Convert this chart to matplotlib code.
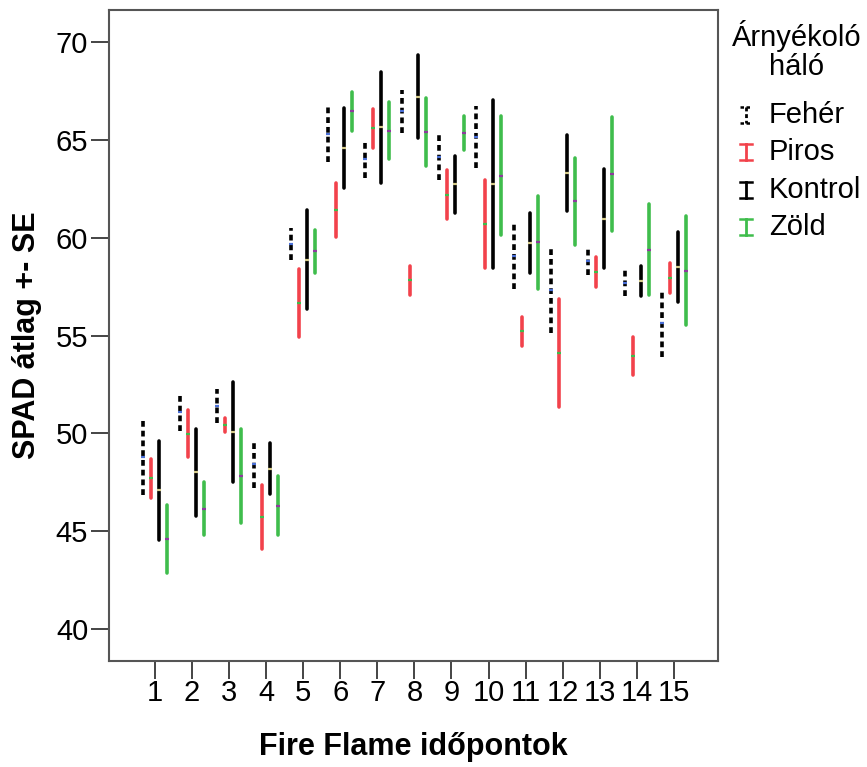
import matplotlib
matplotlib.use("Agg")
import matplotlib.pyplot as plt
from matplotlib.lines import Line2D

plt.rcParams["font.family"] = ["Liberation Sans", "DejaVu Sans"]

timepoints = list(range(1, 16))
groups = ["Fehér", "Piros", "Kontrol", "Zöld"]

# SPAD means and standard errors per shade net
feher_mean = [48.78, 51.10, 51.41, 48.41, 59.68, 65.31, 64.05, 66.46, 64.13, 65.15, 59.08, 57.32, 58.79, 57.71, 55.62]
feher_se = [1.92, 0.96, 0.86, 1.21, 0.81, 1.44, 1.00, 1.11, 1.17, 1.59, 1.71, 2.20, 0.69, 0.68, 1.72]
piros_mean = [47.71, 49.99, 50.42, 45.73, 56.67, 61.41, 65.59, 57.82, 62.21, 60.72, 55.21, 54.12, 58.24, 53.97, 57.95]
piros_se = [0.99, 1.21, 0.36, 1.65, 1.72, 1.38, 0.98, 0.75, 1.26, 2.24, 0.74, 2.75, 0.77, 0.98, 0.75]
kontrol_mean = [47.09, 48.01, 50.08, 48.20, 58.89, 64.60, 65.66, 67.22, 62.73, 62.77, 59.74, 63.33, 60.98, 57.78, 58.53]
kontrol_se = [2.54, 2.23, 2.57, 1.31, 2.54, 2.03, 2.84, 2.13, 1.47, 4.29, 1.55, 1.94, 2.53, 0.78, 1.79]
zold_mean = [44.59, 46.15, 47.82, 46.31, 59.30, 66.48, 65.48, 65.43, 65.36, 63.18, 59.76, 61.86, 63.27, 59.40, 58.32]
zold_se = [1.74, 1.35, 2.41, 1.53, 1.11, 1.00, 1.45, 1.74, 0.87, 3.03, 2.39, 2.22, 2.90, 2.32, 2.77]

means = [feher_mean, piros_mean, kontrol_mean, zold_mean]
ses = [feher_se, piros_se, kontrol_se, zold_se]
bar_colors = ["black", "#f2424b", "black", "#3fbd4c"]
mean_colors = ["#4a6fd6", "#3fbd4c", "#d6cc8c", "#8e3a9e"]
dashes = [(0, (1.6, 1.1)), "solid", "solid", "solid"]
offsets = [-0.325, -0.108, 0.108, 0.325]

fig = plt.figure(figsize=(8.67, 7.67), dpi=100)
ax = fig.add_axes([0.1257, 0.1382, 0.7024, 0.8488])

for m, s, c, mc, ls, off in zip(means, ses, bar_colors, mean_colors, dashes, offsets):
    xs = [t + off for t in timepoints]
    lo = [a - b for a, b in zip(m, s)]
    hi = [a + b for a, b in zip(m, s)]
    lc = ax.vlines(xs, lo, hi, colors=c, linewidth=2.6, linestyles=ls, zorder=2)
    lc.set_capstyle("butt" if ls != "solid" else "round")
    ax.plot(xs, m, linestyle="none", marker="_", markersize=3.2, markeredgewidth=1.6,
            color=mc, zorder=3)

ax.set_xlim(-0.24, 16.19)
ax.set_ylim(38.36, 71.65)
ax.set_xticks(timepoints)
ax.set_xticklabels([str(t) for t in timepoints])
ax.set_yticks([40, 45, 50, 55, 60, 65, 70])
ax.tick_params(axis="both", direction="out", length=13, width=1.4, color="#444444",
               labelsize=21, pad=2)
ax.tick_params(axis="x", pad=0)
for sp in ax.spines.values():
    sp.set_color("#555555")
    sp.set_linewidth(1.5)

ax.set_xlabel("Fire Flame időpontok", fontsize=22, fontweight="bold", labelpad=18)
ax.set_ylabel("SPAD átlag +- SE", fontsize=22, fontweight="bold", labelpad=10)

# legend drawn by hand to the right of the axes
W, H = 867, 767
fig.text(797 / W, 1 - 36 / H, "Árnyékoló", ha="center", va="center", fontsize=21)
fig.text(797 / W, 1 - 67 / H, "háló", ha="center", va="center", fontsize=21)
for i, (name, c, ls) in enumerate(zip(groups, bar_colors, dashes)):
    base = 123 + i * 37.3
    top, bot = base - 16, base
    xc = 746
    vstyle = (0, (1.4, 1.0)) if ls != "solid" else ls
    fig.add_artist(Line2D([xc / W, xc / W], [1 - top / H, 1 - bot / H], color=c, lw=2.0,
                          linestyle=vstyle, transform=fig.transFigure))
    for yy in (top, bot):
        fig.add_artist(Line2D([(xc - 6) / W, (xc + 6) / W], [1 - yy / H, 1 - yy / H], color=c,
                              lw=1.8, linestyle=vstyle, transform=fig.transFigure))
    fig.text(769 / W, 1 - base / H, name, ha="left", va="baseline", fontsize=21)

fig.savefig("out.png", dpi=100, facecolor="white")
